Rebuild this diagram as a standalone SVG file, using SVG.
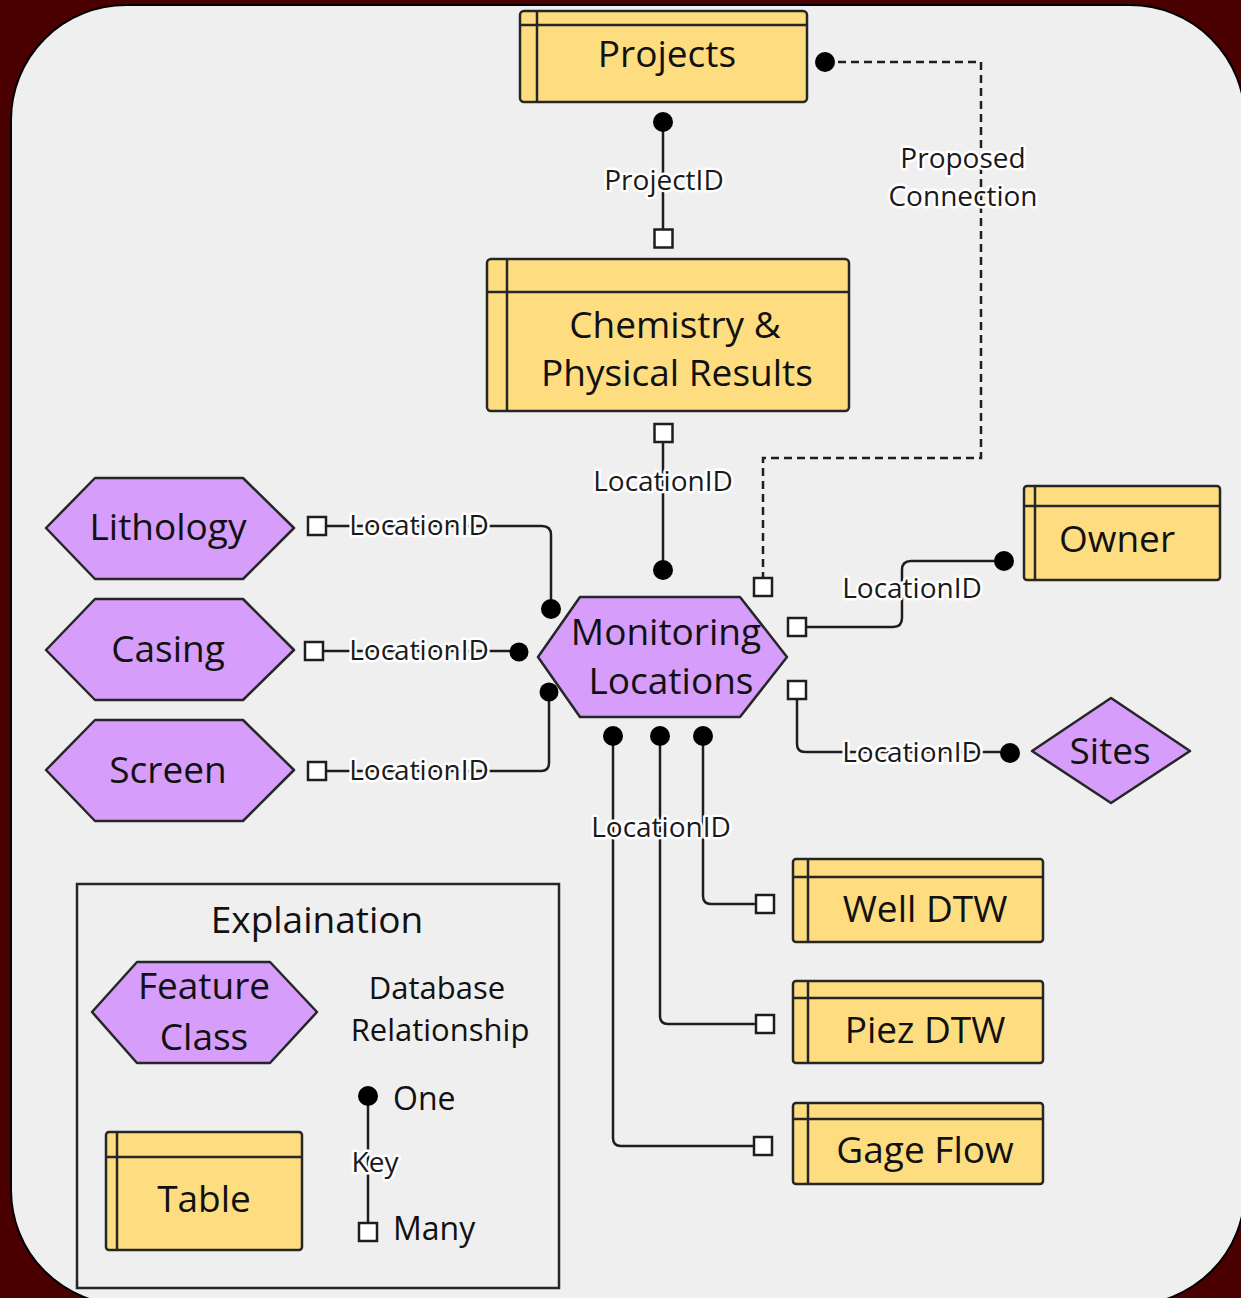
<svg xmlns="http://www.w3.org/2000/svg" width="1241" height="1298" viewBox="0 0 1241 1298">
<style>
.tbl{fill:#fedd80;stroke:#262626;stroke-width:2.5}
.tl{fill:none;stroke:#262626;stroke-width:2.5}
.fc{fill:#d69dfb;stroke:#262626;stroke-width:2.5;stroke-linejoin:round}
.nt{font-family:"Open Sans","Noto Sans",sans-serif;font-size:37px;fill:#111;text-anchor:middle}
.lb{font-family:"Open Sans","Noto Sans",sans-serif;font-size:28px;fill:#1a1a1a;text-anchor:middle;stroke:#fff;stroke-width:5;stroke-linejoin:round;paint-order:stroke}
.ln{fill:none;stroke:#1e1e1e;stroke-width:2.5;stroke-linejoin:round}
.dash{fill:none;stroke:#1e1e1e;stroke-width:2.5;stroke-dasharray:8 5}
.one{fill:#000}
.many{fill:#fff;stroke:#1e1e1e;stroke-width:2.5}
.lg{font-family:"Open Sans","Noto Sans",sans-serif;fill:#111}
</style>
<rect x="0" y="0" width="1241" height="1298" fill="#4a0000"/>
<rect x="11" y="5" width="1234" height="1300" rx="115" ry="115" fill="#efefef" stroke="#000" stroke-width="2"/>

<g id="connectors">
  <line class="ln" x1="663" y1="122" x2="663" y2="238"/>
  <circle class="one" cx="663" cy="122" r="10"/>
  <rect class="many" x="654.5" y="229.5" width="18" height="18"/>
  <text class="lb" x="664" y="190">ProjectID</text>
  <path class="dash" d="M825 62 H981 V458 H763 V587"/>
  <circle class="one" cx="825" cy="62" r="10"/>
  <rect class="many" x="754" y="578" width="18" height="18"/>
  <text class="lb" x="963" y="168">Proposed</text>
  <text class="lb" x="963" y="206">Connection</text>
  <line class="ln" x1="663" y1="433" x2="663" y2="570"/>
  <rect class="many" x="654.5" y="424" width="18" height="18"/>
  <circle class="one" cx="663" cy="570" r="10"/>
  <text class="lb" x="663" y="491">LocationID</text>
  <path class="ln" d="M317 526 H542 Q551 526 551 535 V609"/>
  <rect class="many" x="308" y="517" width="18" height="18"/>
  <circle class="one" cx="551" cy="609" r="10"/>
  <text class="lb" x="419" y="535">LocationID</text>
  <path class="ln" d="M314 651 H519"/>
  <rect class="many" x="305" y="642" width="18" height="18"/>
  <circle class="one" cx="519" cy="652" r="9.5"/>
  <text class="lb" x="419" y="660">LocationID</text>
  <path class="ln" d="M317 771 H541 Q549 771 549 763 V692"/>
  <rect class="many" x="308" y="762" width="18" height="18"/>
  <circle class="one" cx="549" cy="692" r="9.5"/>
  <text class="lb" x="419" y="780">LocationID</text>
  <path class="ln" d="M797 627 H893 Q902 627 902 618 V570 Q902 561 911 561 H1004"/>
  <rect class="many" x="788" y="618" width="18" height="18"/>
  <circle class="one" cx="1004" cy="561" r="10"/>
  <text class="lb" x="912" y="598">LocationID</text>
  <path class="ln" d="M797 690 V744 Q797 752 805 752 H1010"/>
  <rect class="many" x="788" y="681" width="18" height="18"/>
  <circle class="one" cx="1010" cy="753" r="10"/>
  <text class="lb" x="912" y="762">LocationID</text>
  <path class="ln" d="M703 736 V896 Q703 904 711 904 H765"/>
  <path class="ln" d="M660 736 V1016 Q660 1024 668 1024 H765"/>
  <path class="ln" d="M613 736 V1138 Q613 1146 621 1146 H763"/>
  <circle class="one" cx="613" cy="736" r="10"/>
  <circle class="one" cx="660" cy="736" r="10"/>
  <circle class="one" cx="703" cy="736" r="10"/>
  <rect class="many" x="756" y="895" width="18" height="18"/>
  <rect class="many" x="756" y="1015" width="18" height="18"/>
  <rect class="many" x="754" y="1137" width="18" height="18"/>
  <text class="lb" x="661" y="837">LocationID</text>
</g>

<g id="projects">
  <rect class="tbl" x="520" y="11" width="287" height="91" rx="4"/>
  <line class="tl" x1="537" y1="11" x2="537" y2="102"/>
  <line class="tl" x1="520" y1="25" x2="807" y2="25"/>
  <text class="nt" x="667" y="67">Projects</text>
</g>
<g id="chemistry">
  <rect class="tbl" x="487" y="259" width="362" height="152" rx="4"/>
  <line class="tl" x1="507" y1="259" x2="507" y2="411"/>
  <line class="tl" x1="487" y1="292" x2="849" y2="292"/>
  <text class="nt" x="675" y="338">Chemistry &amp;</text>
  <text class="nt" x="677" y="386">Physical Results</text>
</g>
<g id="monitoring">
  <path class="fc" d="M538 657 L580 597 H740 L787 657 L740 717 H580 Z"/>
  <text class="nt" x="666" y="645">Monitoring</text>
  <text class="nt" x="671" y="694">Locations</text>
</g>
<g id="lithology">
  <path class="fc" d="M46 528 L95 478 H243 L294 528 L243 579 H95 Z"/>
  <text class="nt" x="168" y="540">Lithology</text>
</g>
<g id="casing">
  <path class="fc" d="M46 650 L95 599 H243 L294 650 L243 700 H95 Z"/>
  <text class="nt" x="168" y="662">Casing</text>
</g>
<g id="screen">
  <path class="fc" d="M46 770 L95 720 H243 L294 770 L243 821 H95 Z"/>
  <text class="nt" x="168" y="783">Screen</text>
</g>
<g id="owner">
  <rect class="tbl" x="1024" y="486" width="196" height="94" rx="3"/>
  <line class="tl" x1="1035" y1="486" x2="1035" y2="580"/>
  <line class="tl" x1="1024" y1="506" x2="1220" y2="506"/>
  <text class="nt" x="1117" y="552">Owner</text>
</g>
<g id="sites">
  <path class="fc" d="M1032 751 L1111 698 L1190 751 L1111 803 Z"/>
  <text class="nt" x="1110" y="764">Sites</text>
</g>
<g id="welldtw">
  <rect class="tbl" x="793" y="859" width="250" height="83" rx="3"/>
  <line class="tl" x1="808" y1="859" x2="808" y2="942"/>
  <line class="tl" x1="793" y1="877" x2="1043" y2="877"/>
  <text class="nt" x="925" y="922">Well DTW</text>
</g>
<g id="piezdtw">
  <rect class="tbl" x="793" y="981" width="250" height="82" rx="3"/>
  <line class="tl" x1="808" y1="981" x2="808" y2="1063"/>
  <line class="tl" x1="793" y1="998" x2="1043" y2="998"/>
  <text class="nt" x="925" y="1043">Piez DTW</text>
</g>
<g id="gageflow">
  <rect class="tbl" x="793" y="1103" width="250" height="81" rx="3"/>
  <line class="tl" x1="808" y1="1103" x2="808" y2="1184"/>
  <line class="tl" x1="793" y1="1119" x2="1043" y2="1119"/>
  <text class="nt" x="925" y="1163">Gage Flow</text>
</g>

<g id="legend">
  <rect x="77" y="884" width="482" height="404" fill="none" stroke="#262626" stroke-width="2.5"/>
  <text class="nt" x="317" y="933">Explaination</text>
  <path class="fc" d="M92 1012 L137 962 H270 L317 1012 L270 1063 H137 Z"/>
  <text class="nt" x="204" y="999">Feature</text>
  <text class="nt" x="204" y="1050">Class</text>
  <rect class="tbl" x="106" y="1132" width="196" height="118" rx="3"/>
  <line class="tl" x1="117" y1="1132" x2="117" y2="1250"/>
  <line class="tl" x1="106" y1="1157" x2="302" y2="1157"/>
  <text class="nt" x="204" y="1212">Table</text>
  <text class="lg" x="437" y="999" font-size="31" text-anchor="middle">Database</text>
  <text class="lg" x="440" y="1041" font-size="31" text-anchor="middle">Relationship</text>
  <line class="ln" x1="368" y1="1096" x2="368" y2="1232"/>
  <circle class="one" cx="368" cy="1096" r="10"/>
  <rect class="many" x="359" y="1223" width="18" height="18"/>
  <text class="lb" x="375" y="1172">Key</text>
  <text class="lg" x="393" y="1110" font-size="32">One</text>
  <text class="lg" x="393" y="1240" font-size="32">Many</text>
</g>
</svg>
